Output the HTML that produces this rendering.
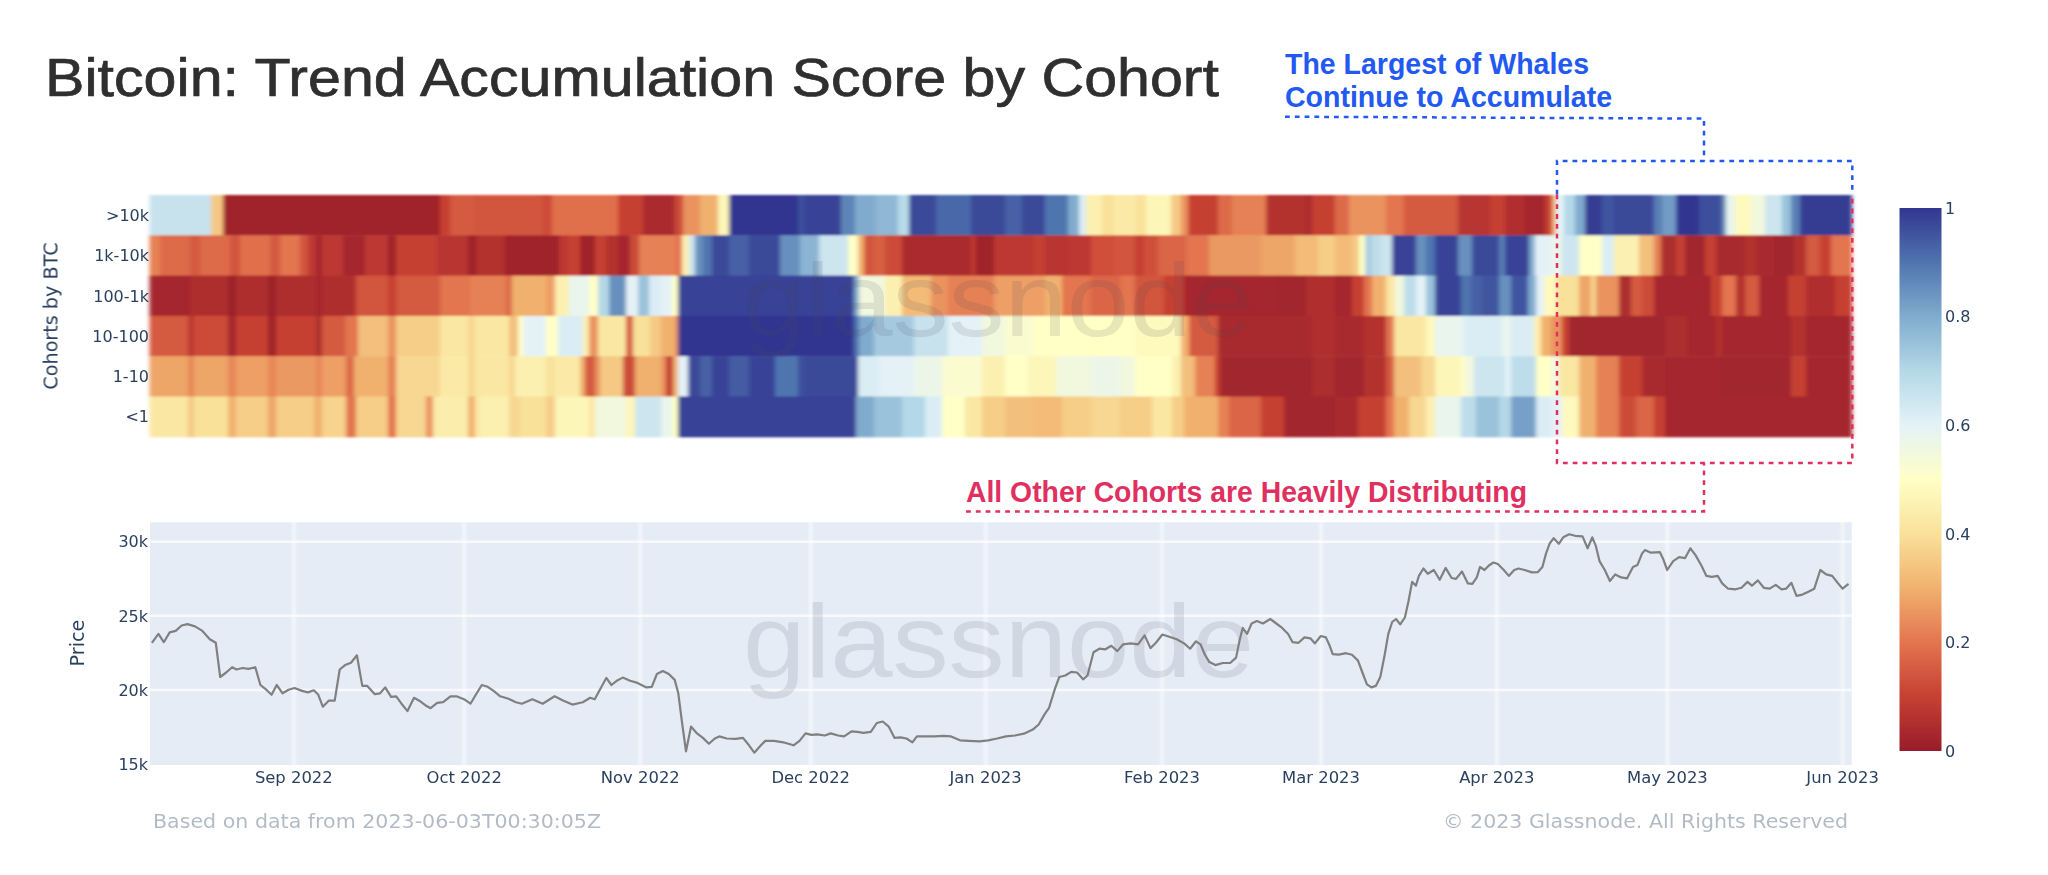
<!DOCTYPE html>
<html><head><meta charset="utf-8"><title>Bitcoin: Trend Accumulation Score by Cohort</title>
<style>
html,body{margin:0;padding:0;background:#fff;}
body{width:2048px;height:875px;overflow:hidden;position:relative;font-family:"Liberation Sans",sans-serif;}
svg{position:absolute;left:0;top:0;}
.t{font-family:"DejaVu Sans","Liberation Sans",sans-serif;fill:#2a3f5f;}
.title{font-family:"Liberation Sans",sans-serif;fill:#2f2f2f;}
.ann{font-family:"Liberation Sans",sans-serif;font-weight:bold;}
.wm{font-family:"Liberation Sans",sans-serif;}
</style></head><body>
<svg width="2048" height="875" viewBox="0 0 2048 875">
<defs>
<filter id="b" x="-1%" y="-3%" width="102%" height="106%"><feGaussianBlur stdDeviation="2 1.2"/></filter>
<filter id="gb"><feGaussianBlur stdDeviation="0.9 0"/></filter>
<filter id="tb"><feGaussianBlur stdDeviation="0.55"/></filter>
<linearGradient id="cb" x1="0" y1="1" x2="0" y2="0">
<stop offset="0%" stop-color="#971d2b"/>
<stop offset="10%" stop-color="#c64032"/>
<stop offset="20%" stop-color="#e3754f"/>
<stop offset="30%" stop-color="#f1b16e"/>
<stop offset="40%" stop-color="#f9e19a"/>
<stop offset="50%" stop-color="#ffffc6"/>
<stop offset="60%" stop-color="#e4f2f7"/>
<stop offset="70%" stop-color="#b4d8e7"/>
<stop offset="80%" stop-color="#81abce"/>
<stop offset="90%" stop-color="#5074af"/>
<stop offset="100%" stop-color="#323690"/>
</linearGradient></defs>
<rect width="2048" height="875" fill="#fff"/>
<text class="title" x="45" y="96" font-size="53" stroke="#2f2f2f" stroke-width="0.7" textLength="1174" lengthAdjust="spacingAndGlyphs">Bitcoin: Trend Accumulation Score by Cohort</text>
<g filter="url(#b)">
<rect x="149.5" y="195.0" width="62.1" height="40.8" fill="#c7e2ed"/>
<rect x="211.0" y="195.0" width="12.6" height="40.8" fill="#f5c984"/>
<rect x="223.0" y="195.0" width="217.6" height="40.8" fill="#a0242c"/>
<rect x="440.0" y="195.0" width="10.6" height="40.8" fill="#c64032"/>
<rect x="450.0" y="195.0" width="25.6" height="40.8" fill="#d45a40"/>
<rect x="475.0" y="195.0" width="68.6" height="40.8" fill="#d2553e"/>
<rect x="543.0" y="195.0" width="9.6" height="40.8" fill="#cc4b38"/>
<rect x="552.0" y="195.0" width="66.6" height="40.8" fill="#e0704c"/>
<rect x="618.0" y="195.0" width="25.6" height="40.8" fill="#c64032"/>
<rect x="643.0" y="195.0" width="32.6" height="40.8" fill="#aa2b2e"/>
<rect x="675.0" y="195.0" width="8.6" height="40.8" fill="#cc4b38"/>
<rect x="683.0" y="195.0" width="17.6" height="40.8" fill="#ea935e"/>
<rect x="700.0" y="195.0" width="18.6" height="40.8" fill="#f1b16e"/>
<rect x="718.0" y="195.0" width="11.6" height="40.8" fill="#fdf6b9"/>
<rect x="729.0" y="195.0" width="69.6" height="40.8" fill="#323690"/>
<rect x="798.0" y="195.0" width="7.6" height="40.8" fill="#3e4f9c"/>
<rect x="805.0" y="195.0" width="36.6" height="40.8" fill="#384296"/>
<rect x="841.0" y="195.0" width="14.6" height="40.8" fill="#5f85b8"/>
<rect x="855.0" y="195.0" width="21.6" height="40.8" fill="#81abce"/>
<rect x="876.0" y="195.0" width="22.6" height="40.8" fill="#90b8d6"/>
<rect x="898.0" y="195.0" width="11.6" height="40.8" fill="#b9dbe9"/>
<rect x="909.0" y="195.0" width="27.6" height="40.8" fill="#3b4999"/>
<rect x="936.0" y="195.0" width="35.6" height="40.8" fill="#4a68a9"/>
<rect x="971.0" y="195.0" width="34.6" height="40.8" fill="#3b4999"/>
<rect x="1005.0" y="195.0" width="17.6" height="40.8" fill="#4761a6"/>
<rect x="1022.0" y="195.0" width="23.6" height="40.8" fill="#3b4999"/>
<rect x="1045.0" y="195.0" width="23.6" height="40.8" fill="#5074af"/>
<rect x="1068.0" y="195.0" width="11.6" height="40.8" fill="#81abce"/>
<rect x="1079.0" y="195.0" width="7.6" height="40.8" fill="#daedf4"/>
<rect x="1086.0" y="195.0" width="16.6" height="40.8" fill="#fcf0b0"/>
<rect x="1102.0" y="195.0" width="12.6" height="40.8" fill="#f9e19a"/>
<rect x="1114.0" y="195.0" width="22.6" height="40.8" fill="#fbeaa7"/>
<rect x="1136.0" y="195.0" width="10.6" height="40.8" fill="#f9e19a"/>
<rect x="1146.0" y="195.0" width="25.6" height="40.8" fill="#fdf6b9"/>
<rect x="1171.0" y="195.0" width="10.6" height="40.8" fill="#f5c984"/>
<rect x="1181.0" y="195.0" width="7.6" height="40.8" fill="#ea935e"/>
<rect x="1188.0" y="195.0" width="30.6" height="40.8" fill="#c64032"/>
<rect x="1218.0" y="195.0" width="14.6" height="40.8" fill="#dd6a49"/>
<rect x="1232.0" y="195.0" width="34.6" height="40.8" fill="#e68155"/>
<rect x="1266.0" y="195.0" width="40.6" height="40.8" fill="#b3322f"/>
<rect x="1306.0" y="195.0" width="6.6" height="40.8" fill="#a92a2e"/>
<rect x="1312.0" y="195.0" width="23.6" height="40.8" fill="#c64032"/>
<rect x="1335.0" y="195.0" width="14.6" height="40.8" fill="#dd6a49"/>
<rect x="1349.0" y="195.0" width="37.6" height="40.8" fill="#ea935e"/>
<rect x="1386.0" y="195.0" width="18.6" height="40.8" fill="#e3754f"/>
<rect x="1404.0" y="195.0" width="54.6" height="40.8" fill="#d45a40"/>
<rect x="1458.0" y="195.0" width="32.6" height="40.8" fill="#b73530"/>
<rect x="1490.0" y="195.0" width="15.6" height="40.8" fill="#c64032"/>
<rect x="1505.0" y="195.0" width="20.6" height="40.8" fill="#b02f2f"/>
<rect x="1525.0" y="195.0" width="20.6" height="40.8" fill="#a5282d"/>
<rect x="1545.0" y="195.0" width="7.6" height="40.8" fill="#c64032"/>
<rect x="1552.0" y="195.0" width="4.6" height="40.8" fill="#f1b16e"/>
<rect x="1556.0" y="195.0" width="8.6" height="40.8" fill="#e4f2f7"/>
<rect x="1564.0" y="195.0" width="11.6" height="40.8" fill="#b4d8e7"/>
<rect x="1575.0" y="195.0" width="10.6" height="40.8" fill="#81abce"/>
<rect x="1585.0" y="195.0" width="17.6" height="40.8" fill="#353c93"/>
<rect x="1602.0" y="195.0" width="12.6" height="40.8" fill="#4155a0"/>
<rect x="1614.0" y="195.0" width="40.6" height="40.8" fill="#3b4999"/>
<rect x="1654.0" y="195.0" width="8.6" height="40.8" fill="#5a7fb5"/>
<rect x="1662.0" y="195.0" width="14.6" height="40.8" fill="#729bc5"/>
<rect x="1676.0" y="195.0" width="23.6" height="40.8" fill="#323690"/>
<rect x="1699.0" y="195.0" width="23.6" height="40.8" fill="#3e4f9c"/>
<rect x="1722.0" y="195.0" width="4.6" height="40.8" fill="#6890be"/>
<rect x="1726.0" y="195.0" width="9.6" height="40.8" fill="#e9f5ed"/>
<rect x="1735.0" y="195.0" width="16.6" height="40.8" fill="#fef9bd"/>
<rect x="1751.0" y="195.0" width="14.6" height="40.8" fill="#f2f8de"/>
<rect x="1765.0" y="195.0" width="17.6" height="40.8" fill="#cce5ef"/>
<rect x="1782.0" y="195.0" width="9.6" height="40.8" fill="#9ac2da"/>
<rect x="1791.0" y="195.0" width="9.6" height="40.8" fill="#5a7fb5"/>
<rect x="1800.0" y="195.0" width="52.1" height="40.8" fill="#353c93"/>
<rect x="149.5" y="235.3" width="11.1" height="40.8" fill="#e68155"/>
<rect x="160.0" y="235.3" width="30.6" height="40.8" fill="#dd6a49"/>
<rect x="190.0" y="235.3" width="10.6" height="40.8" fill="#d45a40"/>
<rect x="200.0" y="235.3" width="30.6" height="40.8" fill="#dd6a49"/>
<rect x="230.0" y="235.3" width="10.6" height="40.8" fill="#d2553e"/>
<rect x="240.0" y="235.3" width="30.6" height="40.8" fill="#e0704c"/>
<rect x="270.0" y="235.3" width="10.6" height="40.8" fill="#d45a40"/>
<rect x="280.0" y="235.3" width="20.6" height="40.8" fill="#e3754f"/>
<rect x="300.0" y="235.3" width="8.6" height="40.8" fill="#d2553e"/>
<rect x="308.0" y="235.3" width="8.6" height="40.8" fill="#bd3931"/>
<rect x="316.0" y="235.3" width="6.6" height="40.8" fill="#a5282d"/>
<rect x="322.0" y="235.3" width="21.6" height="40.8" fill="#bd3931"/>
<rect x="343.0" y="235.3" width="22.6" height="40.8" fill="#a5282d"/>
<rect x="365.0" y="235.3" width="23.6" height="40.8" fill="#bd3931"/>
<rect x="388.0" y="235.3" width="8.6" height="40.8" fill="#a0242c"/>
<rect x="396.0" y="235.3" width="41.6" height="40.8" fill="#c64032"/>
<rect x="437.0" y="235.3" width="31.6" height="40.8" fill="#b83630"/>
<rect x="468.0" y="235.3" width="8.6" height="40.8" fill="#a0242c"/>
<rect x="476.0" y="235.3" width="5.6" height="40.8" fill="#b3322f"/>
<rect x="481.0" y="235.3" width="24.6" height="40.8" fill="#b3322f"/>
<rect x="505.0" y="235.3" width="54.6" height="40.8" fill="#a0242c"/>
<rect x="559.0" y="235.3" width="9.6" height="40.8" fill="#bd3931"/>
<rect x="568.0" y="235.3" width="12.6" height="40.8" fill="#c64032"/>
<rect x="580.0" y="235.3" width="15.6" height="40.8" fill="#a0242c"/>
<rect x="595.0" y="235.3" width="11.6" height="40.8" fill="#c64032"/>
<rect x="606.0" y="235.3" width="12.6" height="40.8" fill="#b3322f"/>
<rect x="618.0" y="235.3" width="12.6" height="40.8" fill="#a5282d"/>
<rect x="630.0" y="235.3" width="9.6" height="40.8" fill="#cc4b38"/>
<rect x="639.0" y="235.3" width="36.6" height="40.8" fill="#e68155"/>
<rect x="675.0" y="235.3" width="7.6" height="40.8" fill="#e3754f"/>
<rect x="682.0" y="235.3" width="7.6" height="40.8" fill="#fcf0b0"/>
<rect x="689.0" y="235.3" width="6.6" height="40.8" fill="#cce5ef"/>
<rect x="695.0" y="235.3" width="8.6" height="40.8" fill="#6890be"/>
<rect x="703.0" y="235.3" width="9.6" height="40.8" fill="#5074af"/>
<rect x="712.0" y="235.3" width="17.6" height="40.8" fill="#3b4999"/>
<rect x="729.0" y="235.3" width="20.6" height="40.8" fill="#4761a6"/>
<rect x="749.0" y="235.3" width="31.6" height="40.8" fill="#3b4999"/>
<rect x="780.0" y="235.3" width="20.6" height="40.8" fill="#6890be"/>
<rect x="800.0" y="235.3" width="19.6" height="40.8" fill="#8bb4d3"/>
<rect x="819.0" y="235.3" width="29.6" height="40.8" fill="#cce5ef"/>
<rect x="848.0" y="235.3" width="10.6" height="40.8" fill="#ffffc6"/>
<rect x="858.0" y="235.3" width="6.6" height="40.8" fill="#f1b16e"/>
<rect x="864.0" y="235.3" width="10.6" height="40.8" fill="#d2553e"/>
<rect x="874.0" y="235.3" width="11.6" height="40.8" fill="#d76043"/>
<rect x="885.0" y="235.3" width="17.6" height="40.8" fill="#cc4b38"/>
<rect x="902.0" y="235.3" width="69.6" height="40.8" fill="#aa2b2e"/>
<rect x="971.0" y="235.3" width="5.6" height="40.8" fill="#bd3931"/>
<rect x="976.0" y="235.3" width="18.6" height="40.8" fill="#a0242c"/>
<rect x="994.0" y="235.3" width="40.6" height="40.8" fill="#bd3931"/>
<rect x="1034.0" y="235.3" width="11.6" height="40.8" fill="#c64032"/>
<rect x="1045.0" y="235.3" width="23.6" height="40.8" fill="#b83630"/>
<rect x="1068.0" y="235.3" width="23.6" height="40.8" fill="#bd3931"/>
<rect x="1091.0" y="235.3" width="23.6" height="40.8" fill="#cf503b"/>
<rect x="1114.0" y="235.3" width="21.6" height="40.8" fill="#d2553e"/>
<rect x="1135.0" y="235.3" width="9.6" height="40.8" fill="#c64032"/>
<rect x="1144.0" y="235.3" width="14.6" height="40.8" fill="#cf503b"/>
<rect x="1158.0" y="235.3" width="28.6" height="40.8" fill="#da6546"/>
<rect x="1186.0" y="235.3" width="23.6" height="40.8" fill="#e3754f"/>
<rect x="1209.0" y="235.3" width="52.6" height="40.8" fill="#eb9962"/>
<rect x="1261.0" y="235.3" width="34.6" height="40.8" fill="#eea568"/>
<rect x="1295.0" y="235.3" width="23.6" height="40.8" fill="#f3bb77"/>
<rect x="1318.0" y="235.3" width="17.6" height="40.8" fill="#f6ce88"/>
<rect x="1335.0" y="235.3" width="17.6" height="40.8" fill="#f3bb77"/>
<rect x="1352.0" y="235.3" width="7.6" height="40.8" fill="#f5c984"/>
<rect x="1359.0" y="235.3" width="6.6" height="40.8" fill="#ffffc6"/>
<rect x="1365.0" y="235.3" width="7.6" height="40.8" fill="#aacfe2"/>
<rect x="1372.0" y="235.3" width="9.6" height="40.8" fill="#beddea"/>
<rect x="1381.0" y="235.3" width="11.6" height="40.8" fill="#cce5ef"/>
<rect x="1392.0" y="235.3" width="24.6" height="40.8" fill="#384296"/>
<rect x="1416.0" y="235.3" width="10.6" height="40.8" fill="#6890be"/>
<rect x="1426.0" y="235.3" width="9.6" height="40.8" fill="#5074af"/>
<rect x="1435.0" y="235.3" width="23.6" height="40.8" fill="#384296"/>
<rect x="1458.0" y="235.3" width="14.6" height="40.8" fill="#6890be"/>
<rect x="1472.0" y="235.3" width="27.6" height="40.8" fill="#3b4999"/>
<rect x="1499.0" y="235.3" width="6.6" height="40.8" fill="#5a7fb5"/>
<rect x="1505.0" y="235.3" width="24.6" height="40.8" fill="#384296"/>
<rect x="1529.0" y="235.3" width="6.6" height="40.8" fill="#81abce"/>
<rect x="1535.0" y="235.3" width="16.6" height="40.8" fill="#e4f2f7"/>
<rect x="1551.0" y="235.3" width="11.6" height="40.8" fill="#e9f5ed"/>
<rect x="1562.0" y="235.3" width="17.6" height="40.8" fill="#cce5ef"/>
<rect x="1579.0" y="235.3" width="23.6" height="40.8" fill="#ffffc6"/>
<rect x="1602.0" y="235.3" width="12.6" height="40.8" fill="#daedf4"/>
<rect x="1614.0" y="235.3" width="25.6" height="40.8" fill="#fcf0b0"/>
<rect x="1639.0" y="235.3" width="15.6" height="40.8" fill="#f3bf7b"/>
<rect x="1654.0" y="235.3" width="7.6" height="40.8" fill="#e68155"/>
<rect x="1661.0" y="235.3" width="15.6" height="40.8" fill="#ac2d2e"/>
<rect x="1676.0" y="235.3" width="9.6" height="40.8" fill="#c64032"/>
<rect x="1685.0" y="235.3" width="20.6" height="40.8" fill="#a2252d"/>
<rect x="1705.0" y="235.3" width="11.6" height="40.8" fill="#c64032"/>
<rect x="1716.0" y="235.3" width="29.6" height="40.8" fill="#a92a2e"/>
<rect x="1745.0" y="235.3" width="11.6" height="40.8" fill="#b3322f"/>
<rect x="1756.0" y="235.3" width="18.6" height="40.8" fill="#a92a2e"/>
<rect x="1774.0" y="235.3" width="20.6" height="40.8" fill="#a2252d"/>
<rect x="1794.0" y="235.3" width="12.6" height="40.8" fill="#b3322f"/>
<rect x="1806.0" y="235.3" width="14.6" height="40.8" fill="#d45a40"/>
<rect x="1820.0" y="235.3" width="11.6" height="40.8" fill="#c64032"/>
<rect x="1831.0" y="235.3" width="21.1" height="40.8" fill="#e3754f"/>
<rect x="149.5" y="275.6" width="41.1" height="40.8" fill="#a5282d"/>
<rect x="190.0" y="275.6" width="38.6" height="40.8" fill="#ae2e2e"/>
<rect x="228.0" y="275.6" width="8.6" height="40.8" fill="#9c202c"/>
<rect x="236.0" y="275.6" width="32.6" height="40.8" fill="#ae2e2e"/>
<rect x="268.0" y="275.6" width="8.6" height="40.8" fill="#9c202c"/>
<rect x="276.0" y="275.6" width="40.6" height="40.8" fill="#ae2e2e"/>
<rect x="316.0" y="275.6" width="6.6" height="40.8" fill="#a5282d"/>
<rect x="322.0" y="275.6" width="34.6" height="40.8" fill="#ae2e2e"/>
<rect x="356.0" y="275.6" width="32.6" height="40.8" fill="#d2553e"/>
<rect x="388.0" y="275.6" width="8.6" height="40.8" fill="#c64032"/>
<rect x="396.0" y="275.6" width="44.6" height="40.8" fill="#d45a40"/>
<rect x="440.0" y="275.6" width="30.6" height="40.8" fill="#e3754f"/>
<rect x="470.0" y="275.6" width="36.6" height="40.8" fill="#e68155"/>
<rect x="506.0" y="275.6" width="6.6" height="40.8" fill="#dd6a49"/>
<rect x="512.0" y="275.6" width="34.6" height="40.8" fill="#f1b16e"/>
<rect x="546.0" y="275.6" width="9.6" height="40.8" fill="#ed9f65"/>
<rect x="555.0" y="275.6" width="14.6" height="40.8" fill="#fcf0b0"/>
<rect x="569.0" y="275.6" width="20.6" height="40.8" fill="#e9f5ed"/>
<rect x="589.0" y="275.6" width="9.6" height="40.8" fill="#ffffc6"/>
<rect x="598.0" y="275.6" width="11.6" height="40.8" fill="#b4d8e7"/>
<rect x="609.0" y="275.6" width="17.6" height="40.8" fill="#6890be"/>
<rect x="626.0" y="275.6" width="12.6" height="40.8" fill="#e4f2f7"/>
<rect x="638.0" y="275.6" width="11.6" height="40.8" fill="#9ac2da"/>
<rect x="649.0" y="275.6" width="12.6" height="40.8" fill="#daedf4"/>
<rect x="661.0" y="275.6" width="11.6" height="40.8" fill="#e4f2f7"/>
<rect x="672.0" y="275.6" width="6.6" height="40.8" fill="#ffffc6"/>
<rect x="678.0" y="275.6" width="176.6" height="40.8" fill="#384296"/>
<rect x="854.0" y="275.6" width="5.6" height="40.8" fill="#81abce"/>
<rect x="859.0" y="275.6" width="26.6" height="40.8" fill="#f2f8de"/>
<rect x="885.0" y="275.6" width="17.6" height="40.8" fill="#fcf0b0"/>
<rect x="902.0" y="275.6" width="29.6" height="40.8" fill="#f3bb77"/>
<rect x="931.0" y="275.6" width="17.6" height="40.8" fill="#ea935e"/>
<rect x="948.0" y="275.6" width="46.6" height="40.8" fill="#e68155"/>
<rect x="994.0" y="275.6" width="51.6" height="40.8" fill="#ed9f65"/>
<rect x="1045.0" y="275.6" width="17.6" height="40.8" fill="#f1b16e"/>
<rect x="1062.0" y="275.6" width="29.6" height="40.8" fill="#e3754f"/>
<rect x="1091.0" y="275.6" width="29.6" height="40.8" fill="#da6546"/>
<rect x="1120.0" y="275.6" width="15.6" height="40.8" fill="#e3754f"/>
<rect x="1135.0" y="275.6" width="29.6" height="40.8" fill="#d2553e"/>
<rect x="1164.0" y="275.6" width="20.6" height="40.8" fill="#c64032"/>
<rect x="1184.0" y="275.6" width="94.6" height="40.8" fill="#a5282d"/>
<rect x="1278.0" y="275.6" width="28.6" height="40.8" fill="#a2252d"/>
<rect x="1306.0" y="275.6" width="29.6" height="40.8" fill="#b02f2f"/>
<rect x="1335.0" y="275.6" width="17.6" height="40.8" fill="#a5282d"/>
<rect x="1352.0" y="275.6" width="12.6" height="40.8" fill="#c64032"/>
<rect x="1364.0" y="275.6" width="8.6" height="40.8" fill="#e3754f"/>
<rect x="1372.0" y="275.6" width="14.6" height="40.8" fill="#f1b16e"/>
<rect x="1386.0" y="275.6" width="9.6" height="40.8" fill="#fae7a3"/>
<rect x="1395.0" y="275.6" width="9.6" height="40.8" fill="#f2f8de"/>
<rect x="1404.0" y="275.6" width="12.6" height="40.8" fill="#beddea"/>
<rect x="1416.0" y="275.6" width="10.6" height="40.8" fill="#e4f2f7"/>
<rect x="1426.0" y="275.6" width="9.6" height="40.8" fill="#9ac2da"/>
<rect x="1435.0" y="275.6" width="26.6" height="40.8" fill="#384296"/>
<rect x="1461.0" y="275.6" width="10.6" height="40.8" fill="#5074af"/>
<rect x="1471.0" y="275.6" width="11.6" height="40.8" fill="#4761a6"/>
<rect x="1482.0" y="275.6" width="17.6" height="40.8" fill="#4155a0"/>
<rect x="1499.0" y="275.6" width="12.6" height="40.8" fill="#6890be"/>
<rect x="1511.0" y="275.6" width="17.6" height="40.8" fill="#4155a0"/>
<rect x="1528.0" y="275.6" width="8.6" height="40.8" fill="#81abce"/>
<rect x="1536.0" y="275.6" width="8.6" height="40.8" fill="#e4f2f7"/>
<rect x="1544.0" y="275.6" width="12.6" height="40.8" fill="#fef9bd"/>
<rect x="1556.0" y="275.6" width="23.6" height="40.8" fill="#f9e19a"/>
<rect x="1579.0" y="275.6" width="12.6" height="40.8" fill="#eea568"/>
<rect x="1591.0" y="275.6" width="5.6" height="40.8" fill="#f7d791"/>
<rect x="1596.0" y="275.6" width="23.6" height="40.8" fill="#ea935e"/>
<rect x="1619.0" y="275.6" width="12.6" height="40.8" fill="#ac2d2e"/>
<rect x="1631.0" y="275.6" width="11.6" height="40.8" fill="#d45a40"/>
<rect x="1642.0" y="275.6" width="12.6" height="40.8" fill="#cc4b38"/>
<rect x="1654.0" y="275.6" width="57.6" height="40.8" fill="#a5282d"/>
<rect x="1711.0" y="275.6" width="11.6" height="40.8" fill="#c64032"/>
<rect x="1722.0" y="275.6" width="14.6" height="40.8" fill="#e3754f"/>
<rect x="1736.0" y="275.6" width="9.6" height="40.8" fill="#b3322f"/>
<rect x="1745.0" y="275.6" width="14.6" height="40.8" fill="#d45a40"/>
<rect x="1759.0" y="275.6" width="29.6" height="40.8" fill="#a5282d"/>
<rect x="1788.0" y="275.6" width="18.6" height="40.8" fill="#c64032"/>
<rect x="1806.0" y="275.6" width="29.6" height="40.8" fill="#b02f2f"/>
<rect x="1835.0" y="275.6" width="17.1" height="40.8" fill="#c64032"/>
<rect x="149.5" y="315.9" width="39.1" height="40.8" fill="#d45a40"/>
<rect x="188.0" y="315.9" width="6.6" height="40.8" fill="#bd3931"/>
<rect x="194.0" y="315.9" width="34.6" height="40.8" fill="#cc4b38"/>
<rect x="228.0" y="315.9" width="8.6" height="40.8" fill="#a5282d"/>
<rect x="236.0" y="315.9" width="32.6" height="40.8" fill="#c64032"/>
<rect x="268.0" y="315.9" width="8.6" height="40.8" fill="#a0242c"/>
<rect x="276.0" y="315.9" width="40.6" height="40.8" fill="#c64032"/>
<rect x="316.0" y="315.9" width="6.6" height="40.8" fill="#ae2e2e"/>
<rect x="322.0" y="315.9" width="23.6" height="40.8" fill="#d45a40"/>
<rect x="345.0" y="315.9" width="13.6" height="40.8" fill="#e3754f"/>
<rect x="358.0" y="315.9" width="30.6" height="40.8" fill="#f3bf7b"/>
<rect x="388.0" y="315.9" width="8.6" height="40.8" fill="#ea935e"/>
<rect x="396.0" y="315.9" width="44.6" height="40.8" fill="#f6ce88"/>
<rect x="440.0" y="315.9" width="28.6" height="40.8" fill="#fae7a3"/>
<rect x="468.0" y="315.9" width="7.6" height="40.8" fill="#f7d791"/>
<rect x="475.0" y="315.9" width="34.6" height="40.8" fill="#fae7a3"/>
<rect x="509.0" y="315.9" width="9.6" height="40.8" fill="#f3bf7b"/>
<rect x="518.0" y="315.9" width="5.6" height="40.8" fill="#ffffc6"/>
<rect x="523.0" y="315.9" width="23.6" height="40.8" fill="#e4f2f7"/>
<rect x="546.0" y="315.9" width="12.6" height="40.8" fill="#ffffc6"/>
<rect x="558.0" y="315.9" width="25.6" height="40.8" fill="#daedf4"/>
<rect x="583.0" y="315.9" width="6.6" height="40.8" fill="#fcf0b0"/>
<rect x="589.0" y="315.9" width="9.6" height="40.8" fill="#ea935e"/>
<rect x="598.0" y="315.9" width="28.6" height="40.8" fill="#fae7a3"/>
<rect x="626.0" y="315.9" width="7.6" height="40.8" fill="#d45a40"/>
<rect x="633.0" y="315.9" width="17.6" height="40.8" fill="#f9e19a"/>
<rect x="650.0" y="315.9" width="11.6" height="40.8" fill="#f5c984"/>
<rect x="661.0" y="315.9" width="14.6" height="40.8" fill="#f1b16e"/>
<rect x="675.0" y="315.9" width="3.6" height="40.8" fill="#ea935e"/>
<rect x="678.0" y="315.9" width="176.6" height="40.8" fill="#323690"/>
<rect x="854.0" y="315.9" width="5.6" height="40.8" fill="#5074af"/>
<rect x="859.0" y="315.9" width="15.6" height="40.8" fill="#81abce"/>
<rect x="874.0" y="315.9" width="40.6" height="40.8" fill="#a5cae0"/>
<rect x="914.0" y="315.9" width="34.6" height="40.8" fill="#c7e2ed"/>
<rect x="948.0" y="315.9" width="34.6" height="40.8" fill="#e4f2f7"/>
<rect x="982.0" y="315.9" width="23.6" height="40.8" fill="#f2f8de"/>
<rect x="1005.0" y="315.9" width="29.6" height="40.8" fill="#fafcd0"/>
<rect x="1034.0" y="315.9" width="101.6" height="40.8" fill="#ffffc6"/>
<rect x="1135.0" y="315.9" width="46.6" height="40.8" fill="#fef9bd"/>
<rect x="1181.0" y="315.9" width="8.6" height="40.8" fill="#f1b16e"/>
<rect x="1189.0" y="315.9" width="29.6" height="40.8" fill="#d45a40"/>
<rect x="1218.0" y="315.9" width="94.6" height="40.8" fill="#a92a2e"/>
<rect x="1312.0" y="315.9" width="23.6" height="40.8" fill="#b02f2f"/>
<rect x="1335.0" y="315.9" width="29.6" height="40.8" fill="#a92a2e"/>
<rect x="1364.0" y="315.9" width="22.6" height="40.8" fill="#b3322f"/>
<rect x="1386.0" y="315.9" width="8.6" height="40.8" fill="#e3754f"/>
<rect x="1394.0" y="315.9" width="32.6" height="40.8" fill="#fae7a3"/>
<rect x="1426.0" y="315.9" width="9.6" height="40.8" fill="#fef9bd"/>
<rect x="1435.0" y="315.9" width="26.6" height="40.8" fill="#e9f5ed"/>
<rect x="1461.0" y="315.9" width="4.6" height="40.8" fill="#e4f2f7"/>
<rect x="1465.0" y="315.9" width="37.6" height="40.8" fill="#daedf4"/>
<rect x="1502.0" y="315.9" width="9.6" height="40.8" fill="#e9f5ed"/>
<rect x="1511.0" y="315.9" width="23.6" height="40.8" fill="#daedf4"/>
<rect x="1534.0" y="315.9" width="7.6" height="40.8" fill="#fcf0b0"/>
<rect x="1541.0" y="315.9" width="10.6" height="40.8" fill="#f1b16e"/>
<rect x="1551.0" y="315.9" width="11.6" height="40.8" fill="#ea935e"/>
<rect x="1562.0" y="315.9" width="7.6" height="40.8" fill="#c64032"/>
<rect x="1569.0" y="315.9" width="96.6" height="40.8" fill="#a2252d"/>
<rect x="1665.0" y="315.9" width="23.6" height="40.8" fill="#ac2d2e"/>
<rect x="1688.0" y="315.9" width="28.6" height="40.8" fill="#a5282d"/>
<rect x="1716.0" y="315.9" width="6.6" height="40.8" fill="#b3322f"/>
<rect x="1722.0" y="315.9" width="69.6" height="40.8" fill="#a5282d"/>
<rect x="1791.0" y="315.9" width="15.6" height="40.8" fill="#b3322f"/>
<rect x="1806.0" y="315.9" width="46.1" height="40.8" fill="#a5282d"/>
<rect x="149.5" y="356.2" width="39.1" height="40.8" fill="#eea568"/>
<rect x="188.0" y="356.2" width="6.6" height="40.8" fill="#e78758"/>
<rect x="194.0" y="356.2" width="34.6" height="40.8" fill="#eea568"/>
<rect x="228.0" y="356.2" width="8.6" height="40.8" fill="#e78758"/>
<rect x="236.0" y="356.2" width="32.6" height="40.8" fill="#ed9f65"/>
<rect x="268.0" y="356.2" width="8.6" height="40.8" fill="#e78758"/>
<rect x="276.0" y="356.2" width="40.6" height="40.8" fill="#eb9962"/>
<rect x="316.0" y="356.2" width="6.6" height="40.8" fill="#e78758"/>
<rect x="322.0" y="356.2" width="24.6" height="40.8" fill="#ed9f65"/>
<rect x="346.0" y="356.2" width="8.6" height="40.8" fill="#dd6a49"/>
<rect x="354.0" y="356.2" width="34.6" height="40.8" fill="#f1b16e"/>
<rect x="388.0" y="356.2" width="8.6" height="40.8" fill="#e68155"/>
<rect x="396.0" y="356.2" width="44.6" height="40.8" fill="#f7d791"/>
<rect x="440.0" y="356.2" width="28.6" height="40.8" fill="#fbeaa7"/>
<rect x="468.0" y="356.2" width="7.6" height="40.8" fill="#f7d791"/>
<rect x="475.0" y="356.2" width="34.6" height="40.8" fill="#fae7a3"/>
<rect x="509.0" y="356.2" width="6.6" height="40.8" fill="#f7d791"/>
<rect x="515.0" y="356.2" width="31.6" height="40.8" fill="#fcf0b0"/>
<rect x="546.0" y="356.2" width="9.6" height="40.8" fill="#f9e19a"/>
<rect x="555.0" y="356.2" width="25.6" height="40.8" fill="#fbeaa7"/>
<rect x="580.0" y="356.2" width="5.6" height="40.8" fill="#f1b16e"/>
<rect x="585.0" y="356.2" width="10.6" height="40.8" fill="#d45a40"/>
<rect x="595.0" y="356.2" width="5.6" height="40.8" fill="#ea935e"/>
<rect x="600.0" y="356.2" width="23.6" height="40.8" fill="#f5c984"/>
<rect x="623.0" y="356.2" width="12.6" height="40.8" fill="#cc4b38"/>
<rect x="635.0" y="356.2" width="26.6" height="40.8" fill="#f1b16e"/>
<rect x="661.0" y="356.2" width="5.6" height="40.8" fill="#ea935e"/>
<rect x="666.0" y="356.2" width="7.6" height="40.8" fill="#c64032"/>
<rect x="673.0" y="356.2" width="5.6" height="40.8" fill="#f1b16e"/>
<rect x="678.0" y="356.2" width="10.6" height="40.8" fill="#e4f2f7"/>
<rect x="688.0" y="356.2" width="12.6" height="40.8" fill="#3b4999"/>
<rect x="700.0" y="356.2" width="12.6" height="40.8" fill="#4761a6"/>
<rect x="712.0" y="356.2" width="17.6" height="40.8" fill="#384296"/>
<rect x="729.0" y="356.2" width="20.6" height="40.8" fill="#445ba3"/>
<rect x="749.0" y="356.2" width="26.6" height="40.8" fill="#384296"/>
<rect x="775.0" y="356.2" width="23.6" height="40.8" fill="#5074af"/>
<rect x="798.0" y="356.2" width="7.6" height="40.8" fill="#3e4f9c"/>
<rect x="805.0" y="356.2" width="53.6" height="40.8" fill="#3b4999"/>
<rect x="858.0" y="356.2" width="21.6" height="40.8" fill="#daedf4"/>
<rect x="879.0" y="356.2" width="35.6" height="40.8" fill="#e4f2f7"/>
<rect x="914.0" y="356.2" width="28.6" height="40.8" fill="#ecf6e8"/>
<rect x="942.0" y="356.2" width="40.6" height="40.8" fill="#fafcd0"/>
<rect x="982.0" y="356.2" width="23.6" height="40.8" fill="#fcf0b0"/>
<rect x="1005.0" y="356.2" width="23.6" height="40.8" fill="#ffffc6"/>
<rect x="1028.0" y="356.2" width="28.6" height="40.8" fill="#fdf6b9"/>
<rect x="1056.0" y="356.2" width="35.6" height="40.8" fill="#f2f8de"/>
<rect x="1091.0" y="356.2" width="29.6" height="40.8" fill="#ecf6e8"/>
<rect x="1120.0" y="356.2" width="15.6" height="40.8" fill="#f2f8de"/>
<rect x="1135.0" y="356.2" width="37.6" height="40.8" fill="#ffffc6"/>
<rect x="1172.0" y="356.2" width="9.6" height="40.8" fill="#fcf0b0"/>
<rect x="1181.0" y="356.2" width="14.6" height="40.8" fill="#f3bf7b"/>
<rect x="1195.0" y="356.2" width="20.6" height="40.8" fill="#e68155"/>
<rect x="1215.0" y="356.2" width="5.6" height="40.8" fill="#c64032"/>
<rect x="1220.0" y="356.2" width="92.6" height="40.8" fill="#a2252d"/>
<rect x="1312.0" y="356.2" width="23.6" height="40.8" fill="#ac2d2e"/>
<rect x="1335.0" y="356.2" width="29.6" height="40.8" fill="#a2252d"/>
<rect x="1364.0" y="356.2" width="22.6" height="40.8" fill="#b3322f"/>
<rect x="1386.0" y="356.2" width="8.6" height="40.8" fill="#d45a40"/>
<rect x="1394.0" y="356.2" width="27.6" height="40.8" fill="#f3bf7b"/>
<rect x="1421.0" y="356.2" width="14.6" height="40.8" fill="#f7d791"/>
<rect x="1435.0" y="356.2" width="26.6" height="40.8" fill="#fdf6b9"/>
<rect x="1461.0" y="356.2" width="4.6" height="40.8" fill="#ffffc6"/>
<rect x="1465.0" y="356.2" width="9.6" height="40.8" fill="#f2f8de"/>
<rect x="1474.0" y="356.2" width="31.6" height="40.8" fill="#cce5ef"/>
<rect x="1505.0" y="356.2" width="6.6" height="40.8" fill="#e4f2f7"/>
<rect x="1511.0" y="356.2" width="25.6" height="40.8" fill="#beddea"/>
<rect x="1536.0" y="356.2" width="15.6" height="40.8" fill="#ffffc6"/>
<rect x="1551.0" y="356.2" width="8.6" height="40.8" fill="#f2f8de"/>
<rect x="1559.0" y="356.2" width="20.6" height="40.8" fill="#fae7a3"/>
<rect x="1579.0" y="356.2" width="17.6" height="40.8" fill="#f1b16e"/>
<rect x="1596.0" y="356.2" width="23.6" height="40.8" fill="#e68155"/>
<rect x="1619.0" y="356.2" width="23.6" height="40.8" fill="#c64032"/>
<rect x="1642.0" y="356.2" width="23.6" height="40.8" fill="#a92a2e"/>
<rect x="1665.0" y="356.2" width="57.6" height="40.8" fill="#a5282d"/>
<rect x="1722.0" y="356.2" width="69.6" height="40.8" fill="#a2252d"/>
<rect x="1791.0" y="356.2" width="15.6" height="40.8" fill="#c64032"/>
<rect x="1806.0" y="356.2" width="46.1" height="40.8" fill="#a5282d"/>
<rect x="149.5" y="396.5" width="39.1" height="40.8" fill="#fae7a3"/>
<rect x="188.0" y="396.5" width="6.6" height="40.8" fill="#f5c984"/>
<rect x="194.0" y="396.5" width="34.6" height="40.8" fill="#f9e19a"/>
<rect x="228.0" y="396.5" width="8.6" height="40.8" fill="#f1b16e"/>
<rect x="236.0" y="396.5" width="32.6" height="40.8" fill="#f6ce88"/>
<rect x="268.0" y="396.5" width="8.6" height="40.8" fill="#eea568"/>
<rect x="276.0" y="396.5" width="38.6" height="40.8" fill="#f6ce88"/>
<rect x="314.0" y="396.5" width="8.6" height="40.8" fill="#f1b16e"/>
<rect x="322.0" y="396.5" width="24.6" height="40.8" fill="#f7d38d"/>
<rect x="346.0" y="396.5" width="10.6" height="40.8" fill="#e3754f"/>
<rect x="356.0" y="396.5" width="32.6" height="40.8" fill="#f6ce88"/>
<rect x="388.0" y="396.5" width="8.6" height="40.8" fill="#e3754f"/>
<rect x="396.0" y="396.5" width="30.6" height="40.8" fill="#f7d791"/>
<rect x="426.0" y="396.5" width="7.6" height="40.8" fill="#ea935e"/>
<rect x="433.0" y="396.5" width="35.6" height="40.8" fill="#fbedac"/>
<rect x="468.0" y="396.5" width="7.6" height="40.8" fill="#f1b16e"/>
<rect x="475.0" y="396.5" width="6.6" height="40.8" fill="#fbeaa7"/>
<rect x="481.0" y="396.5" width="28.6" height="40.8" fill="#fcf0b0"/>
<rect x="509.0" y="396.5" width="11.6" height="40.8" fill="#f7d791"/>
<rect x="520.0" y="396.5" width="26.6" height="40.8" fill="#f9e19a"/>
<rect x="546.0" y="396.5" width="9.6" height="40.8" fill="#f6ce88"/>
<rect x="555.0" y="396.5" width="34.6" height="40.8" fill="#fdf6b9"/>
<rect x="589.0" y="396.5" width="6.6" height="40.8" fill="#fae7a3"/>
<rect x="595.0" y="396.5" width="31.6" height="40.8" fill="#f2f8de"/>
<rect x="626.0" y="396.5" width="9.6" height="40.8" fill="#fdf6b9"/>
<rect x="635.0" y="396.5" width="26.6" height="40.8" fill="#cce5ef"/>
<rect x="661.0" y="396.5" width="11.6" height="40.8" fill="#e9f5ed"/>
<rect x="672.0" y="396.5" width="6.6" height="40.8" fill="#ffffc6"/>
<rect x="678.0" y="396.5" width="178.6" height="40.8" fill="#384296"/>
<rect x="856.0" y="396.5" width="18.6" height="40.8" fill="#81abce"/>
<rect x="874.0" y="396.5" width="28.6" height="40.8" fill="#9ac2da"/>
<rect x="902.0" y="396.5" width="23.6" height="40.8" fill="#b4d8e7"/>
<rect x="925.0" y="396.5" width="17.6" height="40.8" fill="#daedf4"/>
<rect x="942.0" y="396.5" width="23.6" height="40.8" fill="#ffffc6"/>
<rect x="965.0" y="396.5" width="17.6" height="40.8" fill="#fae7a3"/>
<rect x="982.0" y="396.5" width="23.6" height="40.8" fill="#f6ce88"/>
<rect x="1005.0" y="396.5" width="29.6" height="40.8" fill="#f3bf7b"/>
<rect x="1034.0" y="396.5" width="28.6" height="40.8" fill="#f3bb77"/>
<rect x="1062.0" y="396.5" width="29.6" height="40.8" fill="#f6ce88"/>
<rect x="1091.0" y="396.5" width="29.6" height="40.8" fill="#f7d791"/>
<rect x="1120.0" y="396.5" width="32.6" height="40.8" fill="#f6ce88"/>
<rect x="1152.0" y="396.5" width="20.6" height="40.8" fill="#fae7a3"/>
<rect x="1172.0" y="396.5" width="12.6" height="40.8" fill="#f6ce88"/>
<rect x="1184.0" y="396.5" width="34.6" height="40.8" fill="#f1b16e"/>
<rect x="1218.0" y="396.5" width="11.6" height="40.8" fill="#e68155"/>
<rect x="1229.0" y="396.5" width="32.6" height="40.8" fill="#da6546"/>
<rect x="1261.0" y="396.5" width="23.6" height="40.8" fill="#c64032"/>
<rect x="1284.0" y="396.5" width="51.6" height="40.8" fill="#a2252d"/>
<rect x="1335.0" y="396.5" width="23.6" height="40.8" fill="#a92a2e"/>
<rect x="1358.0" y="396.5" width="28.6" height="40.8" fill="#c64032"/>
<rect x="1386.0" y="396.5" width="8.6" height="40.8" fill="#e3754f"/>
<rect x="1394.0" y="396.5" width="15.6" height="40.8" fill="#f1b16e"/>
<rect x="1409.0" y="396.5" width="17.6" height="40.8" fill="#f7d791"/>
<rect x="1426.0" y="396.5" width="9.6" height="40.8" fill="#fcf0b0"/>
<rect x="1435.0" y="396.5" width="26.6" height="40.8" fill="#e9f5ed"/>
<rect x="1461.0" y="396.5" width="15.6" height="40.8" fill="#beddea"/>
<rect x="1476.0" y="396.5" width="23.6" height="40.8" fill="#9ac2da"/>
<rect x="1499.0" y="396.5" width="12.6" height="40.8" fill="#b4d8e7"/>
<rect x="1511.0" y="396.5" width="25.6" height="40.8" fill="#77a0c8"/>
<rect x="1536.0" y="396.5" width="15.6" height="40.8" fill="#daedf4"/>
<rect x="1551.0" y="396.5" width="11.6" height="40.8" fill="#e4f2f7"/>
<rect x="1562.0" y="396.5" width="17.6" height="40.8" fill="#fef9bd"/>
<rect x="1579.0" y="396.5" width="17.6" height="40.8" fill="#f1b16e"/>
<rect x="1596.0" y="396.5" width="23.6" height="40.8" fill="#e68155"/>
<rect x="1619.0" y="396.5" width="17.6" height="40.8" fill="#cc4b38"/>
<rect x="1636.0" y="396.5" width="18.6" height="40.8" fill="#da6546"/>
<rect x="1654.0" y="396.5" width="11.6" height="40.8" fill="#c64032"/>
<rect x="1665.0" y="396.5" width="187.1" height="40.8" fill="#a5282d"/>
</g>
<text class="wm" x="743" y="336" font-size="104" fill="#3a3a55" fill-opacity="0.13" textLength="511" lengthAdjust="spacingAndGlyphs" filter="url(#tb)">glassnode</text>
<g class="t" font-size="16" text-anchor="end" filter="url(#tb)">
<text x="149" y="221.0">&gt;10k</text>
<text x="149" y="261.2">1k-10k</text>
<text x="149" y="301.6">100-1k</text>
<text x="149" y="341.8">10-100</text>
<text x="149" y="382.2">1-10</text>
<text x="149" y="422.4">&lt;1</text>
</g>
<text class="t" font-size="19.2" text-anchor="middle" transform="translate(57.5,316) rotate(-90)" filter="url(#tb)">Cohorts by BTC</text>
<rect x="150" y="522.3" width="1701.7" height="242.70000000000005" fill="#e5ecf6"/>
<g stroke="#fff" stroke-width="4" opacity="0.5" filter="url(#gb)">
<line x1="293.8" y1="522.3" x2="293.8" y2="765"/>
<line x1="464.2" y1="522.3" x2="464.2" y2="765"/>
<line x1="640.3" y1="522.3" x2="640.3" y2="765"/>
<line x1="810.7" y1="522.3" x2="810.7" y2="765"/>
<line x1="985.6" y1="522.3" x2="985.6" y2="765"/>
<line x1="1162" y1="522.3" x2="1162" y2="765"/>
<line x1="1321" y1="522.3" x2="1321" y2="765"/>
<line x1="1496.8" y1="522.3" x2="1496.8" y2="765"/>
<line x1="1667.4" y1="522.3" x2="1667.4" y2="765"/>
<line x1="1842.6" y1="522.3" x2="1842.6" y2="765"/>
</g><g stroke="#fff" stroke-width="2.4" opacity="0.72" filter="url(#tb)">
<line x1="150" y1="541.8" x2="1851.7" y2="541.8"/>
<line x1="150" y1="615.8" x2="1851.7" y2="615.8"/>
<line x1="150" y1="690" x2="1851.7" y2="690"/>
</g>
<text class="wm" x="743" y="677" font-size="104" fill="#50566a" fill-opacity="0.14" textLength="511" lengthAdjust="spacingAndGlyphs" filter="url(#tb)">glassnode</text>
<polyline fill="none" stroke="#808080" stroke-width="2.2" stroke-linejoin="round" filter="url(#tb)" points="151.9,642.8 158.4,633.9 163.8,642.2 169.7,632.4 175.7,630.9 181.6,625.5 187.5,624.1 195.0,626.4 202.4,630.9 209.8,639.2 215.8,642.8 220.2,677.0 226.2,672.5 232.1,667.2 236.6,669.5 242.5,668.0 248.5,668.9 255.3,667.2 260.4,685.0 266.3,689.7 271.6,694.8 276.7,685.0 282.6,693.3 288.6,689.7 294.5,688.0 302.0,690.9 307.9,692.4 313.8,690.3 318.3,694.8 322.8,706.7 328.7,700.7 334.7,700.7 339.7,669.5 345.1,665.1 351.0,662.7 356.9,655.3 362.3,685.9 367.3,685.9 374.8,694.2 380.1,693.3 385.2,687.4 391.1,696.9 396.2,696.3 401.5,703.7 407.5,711.1 414.0,697.8 419.3,700.7 425.3,705.2 430.6,708.2 437.2,702.8 443.1,702.2 450.5,696.3 456.5,696.3 463.9,699.2 470.5,703.7 475.8,694.8 481.8,685.0 487.7,686.8 493.6,690.9 500.2,696.3 508.5,698.7 515.9,702.2 521.9,703.7 532.3,699.2 542.7,703.7 554.6,696.3 563.5,700.7 572.4,704.6 582.8,702.2 590.2,697.8 594.7,699.2 600.4,688.8 606.3,677.9 611.4,685.0 616.7,680.8 622.7,677.6 630.1,680.8 637.5,682.9 646.5,687.4 651.8,686.8 656.9,674.0 662.8,671.0 668.8,674.0 674.7,679.9 678.3,693.3 682.1,723.0 686.0,751.3 691.0,726.6 697.0,733.4 702.9,737.9 708.9,743.8 714.8,738.5 719.3,736.4 726.7,738.5 735.6,738.8 743.0,737.9 749.0,745.3 754.3,752.7 760.9,745.3 765.3,740.9 774.2,740.9 783.2,742.3 793.6,745.3 799.5,740.9 805.5,733.4 811.4,734.9 817.3,734.3 824.8,735.5 830.7,733.4 838.1,735.5 844.1,736.4 851.5,731.3 857.5,731.9 863.4,732.8 870.8,731.9 876.8,723.0 882.7,721.5 888.7,726.6 894.6,737.9 900.5,737.3 906.5,738.5 912.4,742.3 916.9,736.4 925.8,736.4 934.7,736.4 943.6,735.8 951.1,736.4 960.0,740.3 968.9,740.9 979.3,741.4 988.2,740.3 997.1,738.5 1006.0,736.4 1015.0,735.5 1023.9,733.7 1032.8,729.6 1038.7,724.5 1044.7,714.1 1048.9,708.2 1054.9,688.8 1059.3,677.0 1065.3,675.5 1071.2,671.9 1077.1,672.5 1083.1,679.3 1087.5,675.5 1093.5,652.3 1099.4,648.7 1105.4,649.3 1111.3,645.8 1117.3,651.1 1123.2,644.3 1130.6,643.4 1138.1,644.3 1144.6,635.4 1150.5,648.1 1155.9,642.8 1162.4,634.5 1169.3,636.8 1176.7,639.2 1184.1,643.4 1190.1,648.7 1196.0,641.3 1200.5,644.3 1204.9,654.7 1209.4,662.1 1215.3,665.1 1222.8,663.0 1230.2,663.0 1236.1,657.6 1239.7,639.8 1242.7,627.9 1247.1,633.9 1251.6,623.5 1256.9,621.1 1262.9,623.5 1270.3,619.0 1276.3,623.5 1282.2,627.9 1288.1,633.9 1292.6,642.2 1298.5,642.8 1304.5,637.4 1310.4,638.3 1314.9,643.4 1320.8,636.0 1325.9,637.4 1329.7,645.8 1332.7,654.1 1338.7,654.7 1346.1,653.2 1352.0,654.7 1358.0,660.6 1362.4,672.5 1366.9,684.4 1371.4,687.4 1375.8,685.9 1380.3,677.0 1384.7,654.7 1388.3,633.9 1392.2,622.0 1396.0,619.0 1400.2,624.4 1404.9,617.5 1408.5,601.2 1412.1,581.9 1415.9,585.7 1418.9,575.9 1423.4,568.5 1427.8,573.8 1433.8,570.0 1439.7,579.8 1445.6,567.9 1451.6,578.0 1456.0,578.9 1462.0,571.5 1467.9,583.4 1472.4,583.9 1476.8,577.4 1480.0,567.0 1484.5,570.0 1488.9,565.5 1493.4,562.5 1497.8,564.0 1503.8,570.0 1508.8,575.9 1514.2,570.0 1518.6,568.5 1524.6,570.0 1532.0,572.4 1537.9,572.1 1542.4,567.0 1546.0,553.6 1549.8,543.2 1553.7,538.2 1558.8,543.8 1563.2,537.3 1569.2,534.3 1575.1,535.8 1582.5,536.4 1587.6,548.3 1592.3,537.3 1595.9,546.2 1599.5,561.1 1604.8,570.0 1609.9,581.0 1615.2,574.4 1621.2,577.4 1627.1,578.3 1633.0,567.0 1637.5,564.9 1642.0,553.6 1644.9,550.1 1650.9,552.7 1659.8,552.1 1663.4,559.6 1667.2,570.0 1673.2,561.1 1679.1,557.2 1685.1,558.1 1690.4,548.3 1695.5,555.1 1701.4,565.5 1706.4,575.9 1711.8,576.8 1717.7,575.9 1722.2,583.4 1728.1,588.7 1735.6,589.3 1741.5,587.8 1747.5,581.9 1751.9,585.7 1757.9,580.4 1763.8,587.8 1769.7,588.7 1775.7,584.8 1781.6,589.3 1786.1,588.7 1791.4,582.8 1796.5,595.8 1802.4,594.6 1808.4,591.7 1814.3,588.7 1820.3,570.0 1826.2,574.4 1832.2,575.9 1838.1,583.4 1842.6,588.7 1848.5,583.9"/>
<g class="t" font-size="16" text-anchor="end" filter="url(#tb)">
<text x="148" y="547.2">30k</text>
<text x="148" y="621.5">25k</text>
<text x="148" y="695.8">20k</text>
<text x="148" y="769.5">15k</text>
</g>
<g class="t" font-size="16.4" text-anchor="middle" filter="url(#tb)">
<text x="293.8" y="783">Sep 2022</text>
<text x="464.2" y="783">Oct 2022</text>
<text x="640.3" y="783">Nov 2022</text>
<text x="810.7" y="783">Dec 2022</text>
<text x="985.6" y="783">Jan 2023</text>
<text x="1162" y="783">Feb 2023</text>
<text x="1321" y="783">Mar 2023</text>
<text x="1496.8" y="783">Apr 2023</text>
<text x="1667.4" y="783">May 2023</text>
<text x="1842.6" y="783">Jun 2023</text>
</g>
<text class="t" font-size="19.2" text-anchor="middle" transform="translate(84,643) rotate(-90)" filter="url(#tb)">Price</text>
<g class="t" font-size="20.2" fill-opacity="0.36" filter="url(#tb)"><text x="153" y="828" textLength="448" lengthAdjust="spacingAndGlyphs">Based on data from 2023-06-03T00:30:05Z</text>
<text x="1443" y="828" textLength="405" lengthAdjust="spacingAndGlyphs">© 2023 Glassnode. All Rights Reserved</text></g>
<rect x="1899.5" y="208" width="42" height="543" fill="url(#cb)" filter="url(#tb)"/>
<g class="t" font-size="16" filter="url(#tb)">
<text x="1945" y="213.5">1</text>
<text x="1945" y="322.1">0.8</text>
<text x="1945" y="430.8">0.6</text>
<text x="1945" y="539.5">0.4</text>
<text x="1945" y="648.1">0.2</text>
<text x="1945" y="756.5">0</text>
</g>
<g class="ann" font-size="28.6" fill="#2259f0"><text x="1285" y="73.5" textLength="304" lengthAdjust="spacingAndGlyphs">The Largest of Whales</text><text x="1285" y="107" textLength="327" lengthAdjust="spacingAndGlyphs">Continue to Accumulate</text></g>
<g fill="none" stroke="#2259f0" stroke-width="2.5" stroke-dasharray="4.8 5"><path d="M1285 116.7L1704 118.6V161"/><path d="M1557 194.5V161H1852.3V194.5"/></g>
<g fill="none" stroke="#e0305f" stroke-width="2.5" stroke-dasharray="4.8 5"><path d="M1557 194.5V463H1852.3V194.5"/><path d="M966 511.5H1704V463"/></g>
<text class="ann" font-size="28.6" fill="#e0305f" x="966" y="501.7" textLength="561" lengthAdjust="spacingAndGlyphs">All Other Cohorts are Heavily Distributing</text>
</svg></body></html>
